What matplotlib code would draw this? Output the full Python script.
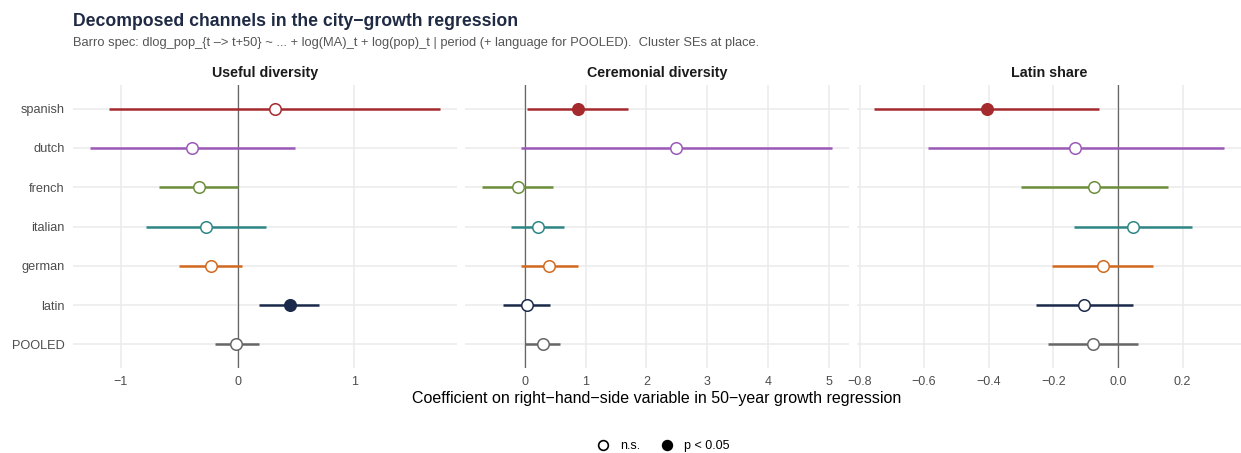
import numpy as np
import matplotlib
matplotlib.use('Agg')
import matplotlib.pyplot as plt
from matplotlib.lines import Line2D

plt.rcParams['font.family'] = ['Liberation Sans', 'DejaVu Sans']

# ===== DATA =====
groups = ['spanish', 'dutch', 'french', 'italian', 'german', 'latin', 'POOLED']
colors = ['#A52A2E', '#9B59B6', '#6B8E3B', '#2E8585', '#D2691E', '#1B2A4A', '#666666']
panels = ['Useful diversity', 'Ceremonial diversity', 'Latin share']

useful_est = [0.32, -0.39, -0.33, -0.27, -0.23, 0.45, -0.01]
useful_lo = [-1.10, -1.26, -0.67, -0.78, -0.50, 0.18, -0.19]
useful_hi = [1.73, 0.49, 0.00, 0.24, 0.04, 0.70, 0.18]
useful_sig = [False, False, False, False, False, True, False]

cerem_est = [0.87, 2.49, -0.12, 0.21, 0.40, 0.03, 0.29]
cerem_lo = [0.04, -0.07, -0.70, -0.23, -0.07, -0.36, 0.00]
cerem_hi = [1.69, 5.05, 0.47, 0.65, 0.88, 0.42, 0.57]
cerem_sig = [True, False, False, False, False, False, False]

latin_est = [-0.407, -0.132, -0.074, 0.046, -0.047, -0.104, -0.076]
latin_lo = [-0.754, -0.589, -0.301, -0.137, -0.204, -0.255, -0.217]
latin_hi = [-0.058, 0.327, 0.154, 0.228, 0.108, 0.048, 0.063]
latin_sig = [True, False, False, False, False, False, False]

panel_data = [
    (useful_est, useful_lo, useful_hi, useful_sig, [-1, 0, 1], ['\u22121', '0', '1']),
    (cerem_est, cerem_lo, cerem_hi, cerem_sig, [0, 1, 2, 3, 4, 5], ['0', '1', '2', '3', '4', '5']),
    (latin_est, latin_lo, latin_hi, latin_sig, [-0.8, -0.6, -0.4, -0.2, 0.0, 0.2],
     ['\u22120.8', '\u22120.6', '\u22120.4', '\u22120.2', '0.0', '0.2']),
]

# ===== FIGURE =====
W, H = 1241, 453
fig = plt.figure(figsize=(W / 100, H / 100), dpi=100)

ax_left = [73, 465, 857]
ax_w = 384
top_px, bot_px = 85, 368
grid_col = '#EBEBEB'
ypos = np.arange(len(groups))[::-1]

axes = []
for i, (est, lo, hi, sig, ticks, tlabels) in enumerate(panel_data):
    ax = fig.add_axes([ax_left[i] / W, (H - bot_px) / H, ax_w / W, (bot_px - top_px) / H])
    axes.append(ax)
    for s in ax.spines.values():
        s.set_visible(False)

    # grid
    for t in ticks:
        ax.axvline(t, color=grid_col, lw=1.1, zorder=0)
    for y in ypos:
        ax.axhline(y, color=grid_col, lw=1.1, zorder=0)
    ax.axvline(0, color='#666666', lw=0.9, zorder=1)

    for j, g in enumerate(groups):
        ax.plot([lo[j], hi[j]], [ypos[j], ypos[j]], color=colors[j], lw=1.8,
                solid_capstyle='butt', zorder=2)
        face = colors[j] if sig[j] else 'white'
        ax.plot(est[j], ypos[j], 'o', ms=8.3, mfc=face, mec=colors[j], mew=1.1, zorder=3)

    lo_all, hi_all = min(lo), max(hi)
    pad = (hi_all - lo_all) * 0.05
    ax.set_xlim(lo_all - pad, hi_all + pad)
    ax.set_ylim(-0.6, len(groups) - 0.4)
    ax.set_xticks(ticks)
    ax.set_xticklabels(tlabels)
    ax.tick_params(axis='x', length=0, pad=6, labelsize=9, labelcolor='#4D4D4D')
    if i == 0:
        ax.set_yticks(ypos)
        ax.set_yticklabels(groups)
        ax.tick_params(axis='y', length=0, pad=6, labelsize=9.2, labelcolor='#4D4D4D')
    else:
        ax.set_yticks([])
    ax.set_title(panels[i], fontsize=10.3, fontweight='bold', color='#1A1A1A', pad=6)

# titles
fig.text(73 / W, 1 - 21 / H, 'Decomposed channels in the city\u2212growth regression',
         fontsize=12.7, fontweight='bold', color='#1F2A44', va='center', ha='left')
fig.text(73 / W, 1 - 43 / H,
         'Barro spec: dlog_pop_{t \u2013> t+50} ~ ... + log(MA)_t + log(pop)_t | period '
         '(+ language for POOLED).  Cluster SEs at place.',
         fontsize=9.3, color='#555555', va='center', ha='left')

fig.text(657 / W, 1 - 399 / H,
         'Coefficient on right\u2212hand\u2212side variable in 50\u2212year growth regression',
         fontsize=11.5, color='black', va='center', ha='center')

handles = [
    Line2D([], [], marker='o', ls='', ms=7, mfc='white', mec='black', mew=1.2, label='n.s.'),
    Line2D([], [], marker='o', ls='', ms=7, mfc='black', mec='black', mew=1.2, label='p < 0.05'),
]
fig.legend(handles=handles, loc='center', bbox_to_anchor=(660 / W, 1 - 446 / H), ncol=2,
           frameon=False, fontsize=9, handletextpad=0.3, columnspacing=1.2)

fig.savefig('out.png', dpi=100)
